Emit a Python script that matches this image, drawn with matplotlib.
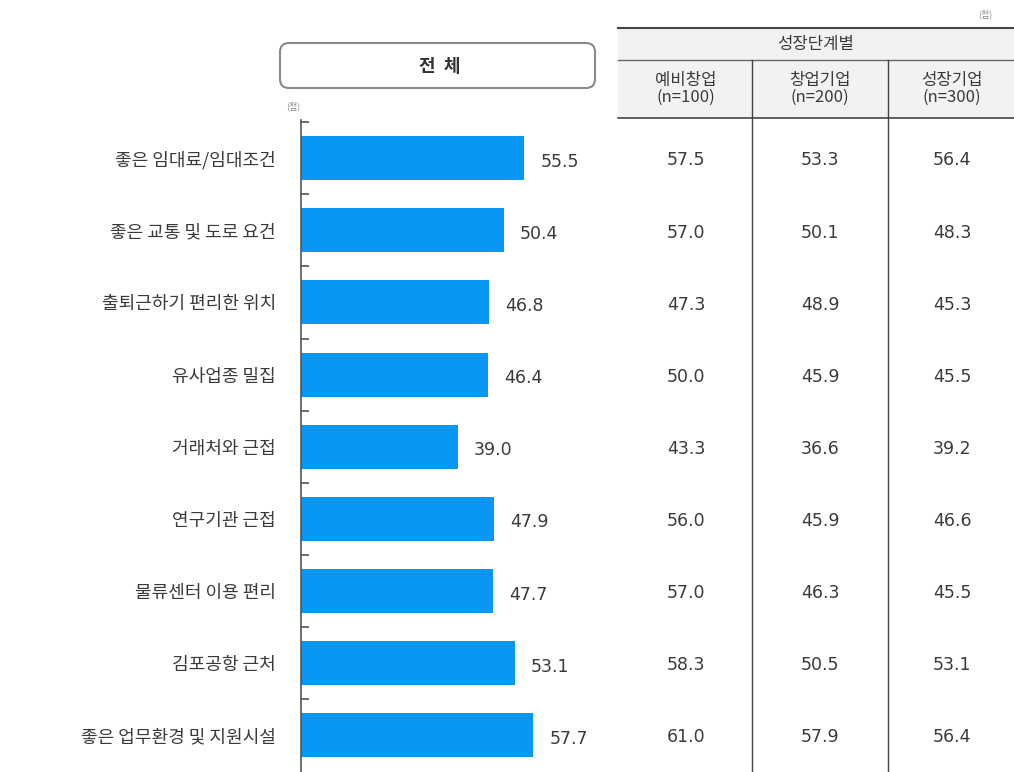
import matplotlib.pyplot as plt
from matplotlib.patches import FancyBboxPatch, Rectangle
import matplotlib.transforms as mtransforms

plt.rcParams['font.family'] = ['Noto Sans CJK KR', 'DejaVu Sans']

# data
cats = ['좋은 임대료/임대조건', '좋은 교통 및 도로 요건', '출퇴근하기 편리한 위치', '유사업종 밀집',
        '거래처와 근접', '연구기관 근접', '물류센터 이용 편리', '김포공항 근처', '좋은 업무환경 및 지원시설']
total = [55.5, 50.4, 46.8, 46.4, 39.0, 47.9, 47.7, 53.1, 57.7]
col_names = ['예비창업\n(n=100)', '창업기업\n(n=200)', '성장기업\n(n=300)']
pre = [57.5, 57.0, 47.3, 50.0, 43.3, 56.0, 57.0, 58.3, 61.0]
startup = [53.3, 50.1, 48.9, 45.9, 36.6, 45.9, 46.3, 50.5, 57.9]
growth = [56.4, 48.3, 45.3, 45.5, 39.2, 46.6, 45.5, 53.1, 56.4]

W, H = 1014, 772
fig = plt.figure(figsize=(W / 100, H / 100), dpi=100)
txt = '#3a3a3a'
num_font = ['DejaVu Sans']

# overlay in pixel coords
ov = fig.add_axes([0, 0, 1, 1])
ov.set_xlim(0, W)
ov.set_ylim(H, 0)
ov.axis('off')

# bar axes
ax = fig.add_axes([301 / W, 0, 309 / W, (H - 120) / H])
ypos = list(range(len(cats)))
ax.barh(ypos, total, height=0.61, color='#0a96f5')
ax.set_xlim(0, 76.8)
ax.set_ylim(8.51, -0.53)
for s in ['top', 'right', 'bottom']:
    ax.spines[s].set_visible(False)
ax.spines['left'].set_color('#555555')
ax.spines['left'].set_linewidth(1.2)
ax.set_xticks([])
ax.set_yticks(ypos)
ax.set_yticklabels(cats, fontsize=13, color=txt)
ax.tick_params(axis='y', which='major', length=0, pad=18)
ax.set_yticks([i - 0.5 for i in range(len(cats))], minor=True)
ax.tick_params(axis='y', which='minor', direction='in', length=6, width=1.2, color='#555555')
ax.set_facecolor('none')
for i, v in enumerate(total):
    ax.text(v + 4.0, i + 0.05, f'{v:.1f}', va='center', ha='left', fontsize=12.5,
            color=txt, family=num_font)

# title box
ov.add_patch(FancyBboxPatch((280, 43), 315, 45, boxstyle='round,pad=0,rounding_size=9',
                            fc='white', ec='#8a8a8a', lw=1.5))
ov.text(440, 66, '전  체', ha='center', va='center', fontsize=13, fontweight='bold', color='#333333')
ov.text(293, 106, '(점)', ha='center', va='center', fontsize=6.5, color='#888888')
ov.text(985, 14, '(점)', ha='center', va='center', fontsize=6.5, color='#888888')

# table
ov.add_patch(Rectangle((618, 28), W - 618, 90, fc='#f2f2f2', ec='none'))
ov.plot([618, W], [28, 28], color='#444444', lw=1.5)
ov.plot([618, W], [60, 60], color='#666666', lw=1.0)
ov.plot([618, W], [118, 118], color='#444444', lw=1.2)
ov.plot([752, 752], [60, H], color='#444444', lw=1.0)
ov.plot([888, 888], [60, H], color='#444444', lw=1.0)
ov.text(816, 45, '성장단계별', ha='center', va='center', fontsize=12, color=txt)
col_x = [686, 820, 952]
for x, name in zip(col_x, col_names):
    ov.text(x, 89, name, ha='center', va='center', fontsize=12, color=txt, linespacing=1.0)

trans = mtransforms.blended_transform_factory(ov.transData, ax.transData)
for x, vals in zip(col_x, [pre, startup, growth]):
    for i, v in enumerate(vals):
        fig.text(x, i + 0.03, f'{v:.1f}', transform=trans, ha='center', va='center', fontsize=12.5,
                 color=txt, family=num_font)

fig.savefig('out.png', dpi=100)
